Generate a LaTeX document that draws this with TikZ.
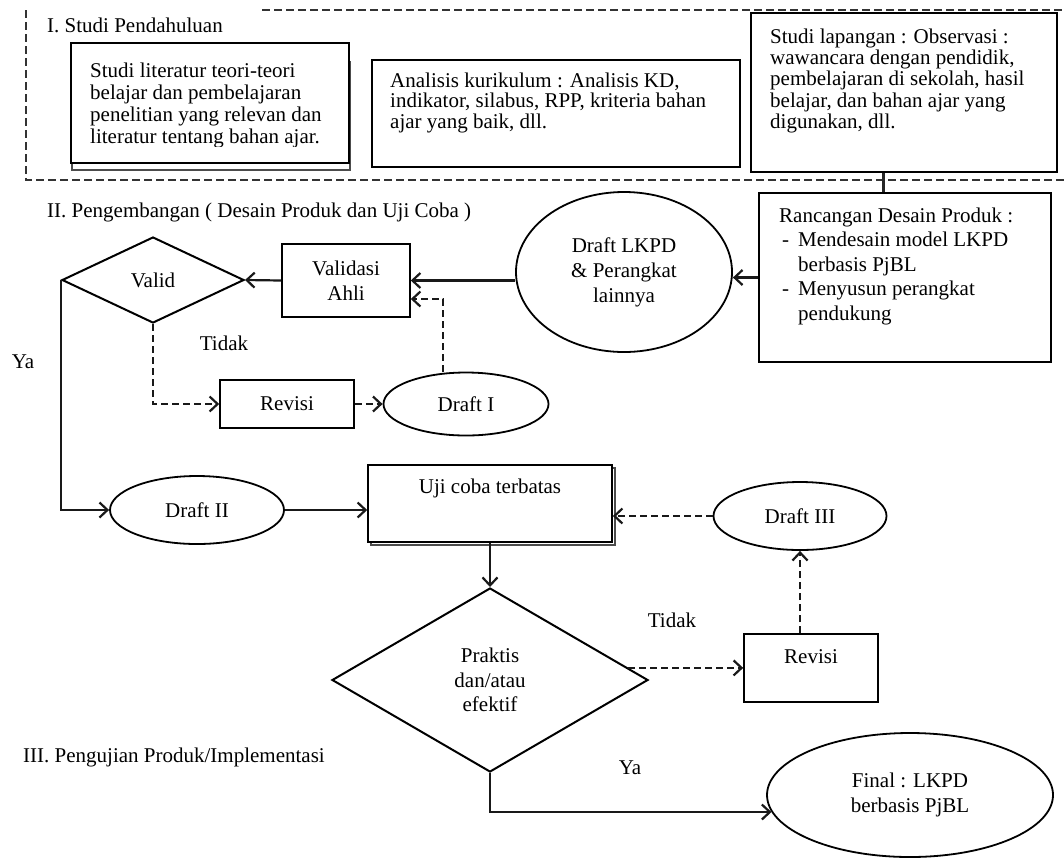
\documentclass[tikz,border=0pt]{standalone}
\usepackage{fontspec}
\setmainfont{Liberation Serif}
\usetikzlibrary{arrows.meta,shapes.geometric}
\begin{document}
\begin{tikzpicture}[x=1pt,y=-1pt,
  every node/.style={font=\fontsize{21}{22}\selectfont, text=black},
  box/.style={draw, line width=1.6pt, rectangle, inner sep=0pt, fill=white},
  shadowbox/.style={draw=black!70, line width=1.5pt, rectangle, inner sep=0pt},
  el/.style={draw, line width=1.8pt, ellipse, inner sep=0pt, align=center, fill=white},
  dia/.style={draw, line width=2pt, diamond, inner sep=0pt, align=center},
  txt/.style={inner sep=0pt, anchor=north west, align=left},
  lbl/.style={inner sep=0pt},
  conn/.style={line width=2.2pt, draw=black!90, -{Straight Barb[length=8pt,width=15pt]}},
  dconn/.style={conn, dash pattern=on 7pt off 4pt},
  frame/.style={line width=1.6pt, dash pattern=on 8pt off 4pt, draw=black!80},
]
\useasboundingbox (0,0) rectangle (1064,860);

% ---------- I. Studi Pendahuluan ----------
\draw[frame] (262,10) -- (1064,10);
\draw[frame] (26,10) -- (26,180) -- (1064,180);
\node[lbl, anchor=west] (t1) at (47,25) {I. Studi Pendahuluan};

\node[shadowbox, minimum width=278, minimum height=108] (b1s) at (211,116) {};
\node[box, minimum width=278, minimum height=120] (b1) at (210,103) {};
\begin{scope}
\clip (75,48) rectangle (345,146.5);
\node[txt, font=\fontsize{21}{22}\selectfont] (b1t) at (90,62.5)
 {Studi literatur teori-teori\\belajar dan pembelajaran\\penelitian yang relevan dan\\literatur tentang bahan ajar.};
\end{scope}

\node[box, minimum width=368, minimum height=107] (b2) at (556,113.5) {};
\node[txt, font=\fontsize{21}{20.5}\selectfont] (b2t) at (390,72.5)
 {Analisis kurikulum : Analisis KD,\\indikator, silabus, RPP, kriteria bahan\\ajar yang baik, dll.};

\node[box, minimum width=306, minimum height=159] (b3) at (904,92.5) {};
\node[txt, font=\fontsize{21}{21.3}\selectfont] (b3t) at (770,28.5)
 {Studi lapangan : Observasi :\\wawancara dengan pendidik,\\pembelajaran di sekolah, hasil\\belajar, dan bahan ajar yang\\digunakan, dll.};

% ---------- II. Pengembangan ----------
\node[lbl, anchor=west] (t2) at (47,212) {II. Pengembangan ( Desain Produk dan Uji Coba )};

\node[box, minimum width=292, minimum height=169] (r) at (905,277.5) {};
\node[txt, font=\fontsize{21}{24.5}\selectfont] (rt) at (779,207.5)
 {Rancangan Desain Produk :\\
  \hspace*{3pt}\makebox[16pt][l]{-}Mendesain model LKPD\\
  \hspace*{19pt}berbasis PjBL\\
  \hspace*{3pt}\makebox[16pt][l]{-}Menyusun perangkat\\
  \hspace*{19pt}pendukung};

\draw[line width=3pt, draw=black!85] ([xshift=-21pt]b3.south) -- ([xshift=-21pt]b3.south |- r.north);

\node[el, minimum width=216, minimum height=160, font=\fontsize{21}{25}\selectfont] (lkpd) at (624,272)
 {Draft LKPD\\\& Perangkat\\lainnya};

\node[box, minimum width=128, minimum height=73, align=center, font=\fontsize{21}{25}\selectfont] (va) at (346,280.5)
 {Validasi\\Ahli};

\node[dia, minimum width=182, minimum height=86, shape aspect=2] (valid) at (153,280) {Valid};

\node[box, minimum width=134, minimum height=48] (rev1) at (287,404) {Revisi};
\node[el, minimum width=165, minimum height=63] (d1) at (466,404) {Draft I};

\node[lbl] (tidak1) at (224,343) {Tidak};
\node[lbl] (ya1) at (23,362) {Ya};

\draw[conn] (r.west) -- (r.west -| lkpd.east);
\draw[conn] (va.east -| lkpd.west) -- (va.east);
\draw[conn] (va.west) -- (valid.east);
\draw[dconn] (valid.south) |- (rev1.west);
\draw[dconn] (rev1.east) -- (d1.west);
\draw[dconn] ([xshift=-23pt]d1.north) |- ([yshift=-18.5pt]va.east);

% ---------- lower flow ----------
\node[el, minimum width=174, minimum height=68] (d2) at (197,510) {Draft II};
\draw[conn] (valid.west) |- (d2.west);

\node[shadowbox, minimum width=244, minimum height=77] (ujis) at (493,506.5) {};
\node[box, minimum width=244, minimum height=77] (uji) at (490,503.5) {};
\node[lbl] (ujit) at (490,488) {Uji coba terbatas};
\draw[conn] (d2.east) -- (d2.east -| uji.west);

\node[el, minimum width=173, minimum height=68] (d3) at (800,516) {Draft III};
\draw[dconn] (d3.west) -- (d3.west -| uji.east);

\node[dia, minimum width=316, minimum height=184, shape aspect=1.7, font=\fontsize{21}{24.5}\selectfont] (prak) at (490,680)
 {Praktis\\dan/atau\\efektif};
\draw[conn] (uji.south) -- (prak.north);

\node[box, minimum width=134, minimum height=68] (rev2) at (811,668) {};
\node[lbl] (rev2t) at (811,657) {Revisi};
\draw[dconn] (prak.5) -- (prak.5 -| rev2.west);
\draw[dconn] (rev2.north -| d3.south) -- (d3.south);

\node[lbl] (tidak2) at (672,620) {Tidak};
\node[lbl] (ya2) at (630,768) {Ya};

\node[el, minimum width=286, minimum height=124, font=\fontsize{21}{25}\selectfont] (fin) at (910,795)
 {Final : LKPD\\berbasis PjBL};
\draw[conn] (prak.south) |- (fin.187);

% ---------- III ----------
\node[lbl, anchor=west] (t3) at (23,757) {III. Pengujian Produk/Implementasi};
\end{tikzpicture}
\end{document}
